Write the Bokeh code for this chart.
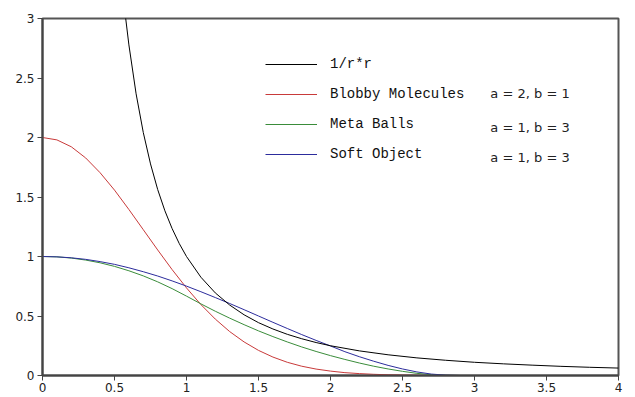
from bokeh.plotting import figure
from bokeh.models import Range1d, FixedTicker, Legend, LegendItem, Label
from bokeh.embed import file_html
from bokeh.resources import INLINE

# ---- data ----
r_inv = [0.57, 0.6, 0.65, 0.7, 0.75, 0.8, 0.85, 0.9, 0.95, 1.0, 1.1, 1.2, 1.3, 1.4, 1.5, 1.6, 1.7,
         1.8, 1.9, 2.0, 2.2, 2.4, 2.6, 2.8, 3.0, 3.2, 3.4, 3.6, 3.8, 4.0]
inv_sq = [3.078, 2.778, 2.367, 2.041, 1.778, 1.5625, 1.384, 1.235, 1.108, 1.0, 0.826, 0.694, 0.592,
          0.510, 0.444, 0.391, 0.346, 0.309, 0.277, 0.25, 0.207, 0.174, 0.148, 0.128, 0.111,
          0.098, 0.087, 0.077, 0.069, 0.0625]

r = [0.0, 0.1, 0.2, 0.3, 0.4, 0.5, 0.6, 0.7, 0.8, 0.9, 1.0, 1.1, 1.2, 1.3, 1.4, 1.5, 1.6, 1.7,
     1.8, 1.9, 2.0, 2.1, 2.2, 2.3, 2.4, 2.5, 2.6, 2.7, 2.8, 2.9, 3.0]
blobby = [2.000, 1.980, 1.922, 1.828, 1.704, 1.558, 1.395, 1.225, 1.055, 0.890, 0.736, 0.596,
          0.474, 0.369, 0.282, 0.211, 0.155, 0.111, 0.078, 0.054, 0.037, 0.024, 0.016, 0.010,
          0.006, 0.004, 0.002, 0.001, 0.001, 0.0, 0.0]
meta = [1.000, 0.997, 0.987, 0.970, 0.947, 0.917, 0.880, 0.837, 0.787, 0.730, 0.667, 0.602,
        0.540, 0.482, 0.427, 0.375, 0.327, 0.282, 0.240, 0.202, 0.167, 0.135, 0.105, 0.078,
        0.055, 0.035, 0.018, 0.007, 0.002, 0.0, 0.0]
soft = [1.000, 0.997, 0.989, 0.976, 0.957, 0.934, 0.905, 0.872, 0.836, 0.795, 0.751, 0.704,
        0.655, 0.605, 0.553, 0.500, 0.447, 0.395, 0.344, 0.295, 0.248, 0.200, 0.158, 0.120,
        0.085, 0.055, 0.030, 0.012, 0.003, 0.0, 0.0]
r_tail = [3.0, 4.0]
zero_tail = [0.0, 0.0]

series_names = ["1/r*r", "Blobby Molecules", "Meta Balls", "Soft Object"]
series_params = ["", "a = 2, b = 1", "a = 1, b = 3", "a = 1, b = 3"]

x_ticks = [0, 0.5, 1, 1.5, 2, 2.5, 3, 3.5, 4]
x_tick_labels = ["0", "0.5", "1", "1.5", "2", "2.5", "3", "3.5", "4"]
y_ticks = [0, 0.5, 1, 1.5, 2, 2.5, 3]
y_tick_labels = ["0", "0.5", "1", "1.5", "2", "2.5", "3"]

colors = ["#000000", "#c83a3a", "#3a8c3a", "#2c2c9c"]

p = figure(width=635, height=397, output_backend="svg", toolbar_location=None,
           x_range=Range1d(0, 4), y_range=Range1d(0, 3),
           min_border_left=42, min_border_right=17, min_border_top=18, min_border_bottom=22)
p.background_fill_color = "white"
p.border_fill_color = "white"
p.outline_line_color = "#555555"
p.outline_line_width = 2
p.grid.visible = False

for ax, ticks, labels in ((p.xaxis[0], x_ticks, x_tick_labels), (p.yaxis[0], y_ticks, y_tick_labels)):
    ax.ticker = FixedTicker(ticks=ticks)
    ax.major_label_overrides = {t: l for t, l in zip(ticks, labels)}
    ax.axis_line_color = "#444444"
    ax.axis_line_width = 2
    ax.major_tick_line_color = "#444444"
    ax.major_tick_line_width = 1
    ax.major_tick_out = 5
    ax.major_tick_in = 0
    ax.minor_tick_out = 0
    ax.minor_tick_in = 0
    ax.major_label_text_font = "DejaVu Sans"
    ax.major_label_text_font_size = "12px"
    ax.major_label_text_color = "#222222"
p.xaxis[0].major_label_standoff = 2
p.yaxis[0].major_label_standoff = 3

l_red = p.line(r + r_tail, blobby + zero_tail, color=colors[1], line_width=1)
l_green = p.line(r, meta, color=colors[2], line_width=1)
l_blue = p.line(r, soft, color=colors[3], line_width=1)
l_black = p.line(r_inv, inv_sq, color=colors[0], line_width=1)

renderers = [l_black, l_red, l_green, l_blue]
legend = Legend(items=[LegendItem(label=n, renderers=[g]) for n, g in zip(series_names, renderers)],
                location=(223, 211), orientation="vertical",
                glyph_width=52, glyph_height=20, label_height=20, label_standoff=13,
                spacing=10, padding=0, margin=0,
                label_text_font="Liberation Mono", label_text_font_size="14px",
                label_text_color="#111111",
                border_line_color=None, background_fill_alpha=0)
p.add_layout(legend, "center")

row_y = [2.61, 2.37, 2.08, 1.83]
for txt, yy in zip(series_params, row_y):
    if txt:
        p.add_layout(Label(x=3.11, y=yy, text=txt, text_font="DejaVu Sans",
                           text_font_size="13px", text_color="#222222",
                           text_baseline="middle"))

p.add_layout(Label(x=586, y=-18, x_units="screen", y_units="screen", text=":",
                   text_font="DejaVu Sans", text_font_size="10px", text_color="#555555"))

open("out.html", "w").write(file_html(p, INLINE))
